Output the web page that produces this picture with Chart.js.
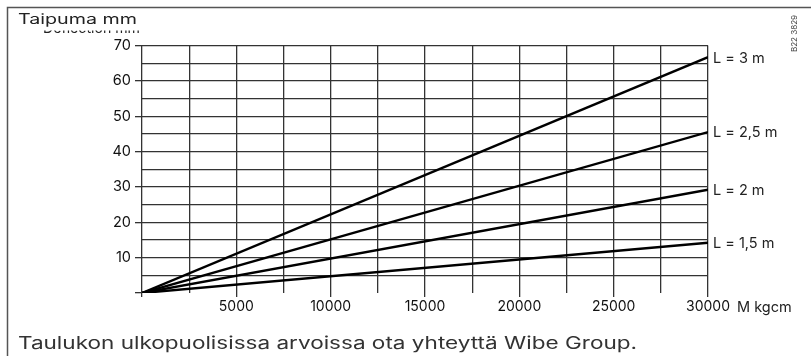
<!DOCTYPE html>
<html>
<head>
<meta charset="utf-8">
<script src="https://cdn.jsdelivr.net/npm/chart.js@4"></script>
<style>
  html, body { margin: 0; padding: 0; background: #fff; }
  #wrap { width: 811px; height: 356px; }
</style>
</head>
<body>
<div id="wrap"><canvas id="myChart" width="811" height="356"></canvas></div>
<script>
// moment (kgcm) at start and end of each line
const moments = [0, 30000];

// deflection in mm
const deflection_3m = [0, 66.7];
const deflection_25m = [0, 45.5];
const deflection_2m = [0, 29.2];
const deflection_15m = [0, 14.2];

const seriesLabels = ['L = 3 m', 'L = 2,5 m', 'L = 2 m', 'L = 1,5 m'];

const yTitle = 'Taipuma mm';
const yTitleHidden = 'Deflection mm';
const xTitle = 'M kgcm';
const footerText = 'Taulukon ulkopuolisissa arvoissa ota yhteyttä Wibe Group.';
const drawingCode = 'B22 3829';

const FONT = 'Inter, "DejaVu Sans", sans-serif';
const GRID = '#333';

function points(ys) {
    return moments.map((m, i) => ({ x: m, y: ys[i] }));
}

// the original font is wide, so stretch text to the width it takes there
function wideText(c, text, x, y, width) {
    const w = c.measureText(text).width;
    c.save();
    c.translate(x, y);
    c.scale(width / w, 1);
    c.fillText(text, 0, 0);
    c.restore();
}

const allSeries = [deflection_3m, deflection_25m, deflection_2m, deflection_15m];

const data = {
    datasets: allSeries.map((ys, i) => ({
        label: seriesLabels[i],
        data: points(ys),
        borderColor: '#000',
        borderWidth: 2.4,
        pointRadius: 0,
        fill: false,
        tension: 0
    }))
};

// texts around the plot: titles, line labels, footer, frame
const extrasPlugin = {
    id: 'extras',
    afterDraw(chart) {
        const c = chart.ctx;
        c.save();

        // frame
        c.strokeStyle = '#555';
        c.lineWidth = 1.5;
        c.beginPath();
        c.moveTo(7.5, 356);
        c.lineTo(7.5, 7.5);
        c.lineTo(811, 7.5);
        c.stroke();

        c.fillStyle = '#222';
        c.font = '14px ' + FONT;
        c.textBaseline = 'alphabetic';
        c.textAlign = 'left';
        wideText(c, yTitle, 18, 24, 119);

        // partly hidden english title, only its lowest strip shows
        c.save();
        c.beginPath();
        c.rect(30, 30.5, 140, 2.5);
        c.clip();
        wideText(c, yTitleHidden, 43, 33, 97);
        c.restore();

        // line labels at the end of each series
        c.textBaseline = 'middle';
        c.font = '14.5px ' + FONT;
        chart.data.datasets.forEach((ds, i) => {
            const meta = chart.getDatasetMeta(i);
            const last = meta.data[meta.data.length - 1];
            c.fillText(ds.label, last.x + 5, last.y + 1);
        });

        // x axis unit
        const xs = chart.scales.x;
        c.fillText(xTitle, xs.right + 29, 308);

        // footer
        c.font = '17px ' + FONT;
        c.fillStyle = '#333';
        c.textBaseline = 'alphabetic';
        wideText(c, footerText, 18, 349, 619);

        // drawing code, rotated
        c.save();
        c.translate(797, 52);
        c.rotate(-Math.PI / 2);
        c.font = '8px ' + FONT;
        c.fillStyle = '#444';
        c.fillText(drawingCode, 0, 0);
        c.restore();

        c.restore();
    }
};

const config = {
    type: 'line',
    data: data,
    options: {
        responsive: false,
        animation: false,
        layout: {
            padding: { left: 0, right: 103, top: 45.5, bottom: 0 }
        },
        plugins: {
            legend: { display: false },
            title: { display: false },
            tooltip: { enabled: false }
        },
        scales: {
            x: {
                type: 'linear',
                min: 0,
                max: 30000,
                border: { display: false },
                grid: {
                    color: GRID,
                    lineWidth: 1.3,
                    tickLength: 4,
                    tickColor: (ctx) => (ctx.tick && ctx.tick.value % 5000 === 0) ? GRID : 'rgba(0,0,0,0)'
                },
                ticks: {
                    stepSize: 2500,
                    autoSkip: false,
                    maxRotation: 0,
                    padding: 1,
                    color: '#111',
                    font: { family: FONT, size: 14 },
                    callback: (v) => (v !== 0 && v % 5000 === 0) ? String(v) : ''
                },
                afterFit: (scale) => { scale.height = 63; }
            },
            y: {
                min: 0,
                max: 70,
                border: { display: false },
                grid: {
                    color: (ctx) => (ctx.tick && ctx.tick.value === 0) ? 'rgba(0,0,0,0)' : GRID,
                    lineWidth: 1.3,
                    tickLength: 7,
                    tickColor: (ctx) => (ctx.tick && ctx.tick.value % 10 === 0) ? GRID : 'rgba(0,0,0,0)'
                },
                ticks: {
                    stepSize: 5,
                    autoSkip: false,
                    padding: 4,
                    color: '#111',
                    font: { family: FONT, size: 14.5 },
                    callback: (v) => (v !== 0 && v % 10 === 0) ? String(v) : ''
                },
                afterFit: (scale) => { scale.width = 142; }
            }
        }
    },
    plugins: [extrasPlugin]
};

const ctx = document.getElementById('myChart').getContext('2d');
new Chart(ctx, config);
</script>
</body>
</html>
